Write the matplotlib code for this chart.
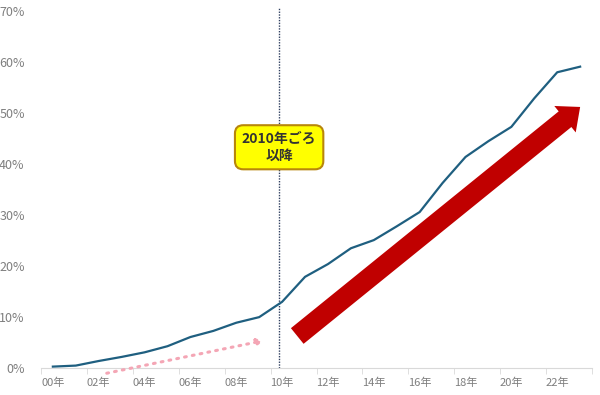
import numpy as np
import matplotlib
matplotlib.use('Agg')
import matplotlib.pyplot as plt

plt.rcParams['font.family'] = ['Noto Sans CJK JP', 'DejaVu Sans']

years = list(range(2000, 2024))
share = [0.3, 0.5, 1.4, 2.2, 3.1, 4.3, 6.1, 7.3, 8.9, 10.0, 13.0, 17.9,
         20.4, 23.5, 25.1, 27.8, 30.6, 36.3, 41.4, 44.5, 47.3, 52.9, 58.0, 59.1]
xlabels = ['%02d年' % (y % 100) for y in years[::2]]
yticks = [0, 10, 20, 30, 40, 50, 60, 70]

fig = plt.figure(figsize=(6, 3.95), dpi=100)
ax = fig.add_axes([0.069, 0.068, 0.917, 0.904])

x = np.arange(len(years))
ax.plot(x, share, color='#1f5f80', lw=1.6, zorder=3)

ax.set_xlim(-0.5, len(years) - 0.5)
ax.set_ylim(0, 70)

ax.set_xticks(x[::2])
ax.set_xticklabels(xlabels, fontsize=8, color='#7f7f7f')
ax.set_xticks(np.arange(-0.5, len(years), 2), minor=True)
ax.tick_params(axis='x', which='major', length=0, pad=7)
ax.tick_params(axis='x', which='minor', length=4, color='#d9d9d9')

ax.set_yticks(yticks)
ax.set_yticklabels(['%d%%' % v for v in yticks], fontsize=9, color='#7f7f7f')
ax.tick_params(axis='y', length=0, pad=12)

for s in ['top', 'right', 'left']:
    ax.spines[s].set_visible(False)
ax.spines['bottom'].set_color('#d9d9d9')

# 2010 marker
ax.plot([9.87, 9.87], [0, 70.6], color='#2f3f60', lw=1, ls=(0, (1, 1)),
        clip_on=False, zorder=2)
ax.text(9.87, 43.3, '2010年ごろ\n以降', ha='center', va='center',
        fontsize=10, fontweight='bold', color='#333333', linespacing=1.2,
        zorder=5,
        bbox=dict(boxstyle='round,pad=0.5,rounding_size=0.6',
                  fc='#ffff00', ec='#b8860b', lw=1.5))

# big red arrow
ax.annotate('', xy=(23.0, 51.2), xytext=(10.66, 6.3),
            arrowprops=dict(arrowstyle='simple,head_length=1.4,head_width=2.45,tail_width=1.45',
                            fc='#c00000', ec='none', lw=0, mutation_scale=10,
                            shrinkA=0, shrinkB=0),
            annotation_clip=False, zorder=4)

# pink dotted arrow
ax.annotate('', xy=(9.2, 5.4), xytext=(2.35, -1.0),
            arrowprops=dict(arrowstyle='-|>', color='#f4a6b5', lw=2.2,
                            ls=(0, (0.6, 2.0)), capstyle='round',
                            mutation_scale=9, shrinkA=0, shrinkB=0),
            annotation_clip=False)

fig.savefig('out.png')
